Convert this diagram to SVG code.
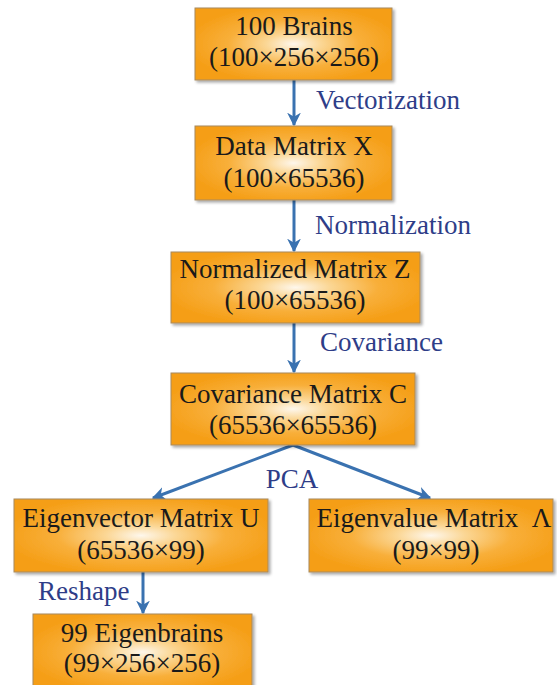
<svg xmlns="http://www.w3.org/2000/svg" width="557" height="685" viewBox="0 0 557 685">
<defs>
<radialGradient id="og" cx="0.5" cy="0.5" r="0.55">
<stop offset="0" stop-color="#FEF7EC"/>
<stop offset="0.25" stop-color="#FBD796"/>
<stop offset="0.6" stop-color="#F8AF3A"/>
<stop offset="1" stop-color="#F59E16"/>
</radialGradient>
<filter id="sh" x="-10%" y="-10%" width="125%" height="130%">
<feGaussianBlur in="SourceAlpha" stdDeviation="1.5"/>
<feOffset dx="2" dy="2" result="b"/>
<feComponentTransfer><feFuncA type="linear" slope="0.35"/></feComponentTransfer>
<feMerge><feMergeNode/><feMergeNode in="SourceGraphic"/></feMerge>
</filter>
<marker id="ah" viewBox="0 0 10 10" refX="9" refY="5" markerWidth="4.6" markerHeight="4.6" orient="auto" markerUnits="strokeWidth">
<path d="M0,0 L10,5 L0,10 L3,5 Z" fill="#3A72B0"/>
</marker>
</defs>
<style>
.box{fill:url(#og);stroke:#A88A5E;stroke-width:1;filter:url(#sh)}
.t{font-family:"Liberation Serif","Times New Roman",serif;font-size:27px;fill:#1a1a1a;text-anchor:middle}
.l{font-family:"Liberation Serif","Times New Roman",serif;font-size:27px;fill:#2E3D88}
.c{stroke:#3A72B0;stroke-width:3;fill:none;marker-end:url(#ah)}
</style>
<rect width="557" height="685" fill="#ffffff"/>
<g id="connectors">
<line class="c" x1="294" y1="80" x2="294" y2="125"/>
<line class="c" x1="294" y1="200" x2="294" y2="251"/>
<line class="c" x1="294" y1="323" x2="294" y2="372"/>
<polyline class="c" points="293,445 153,498"/>
<polyline class="c" points="293,445 430,498"/>
<line class="c" x1="143" y1="572" x2="143" y2="613"/>
<text class="l" x="316" y="109">Vectorization</text>
<text class="l" x="315" y="234">Normalization</text>
<text class="l" x="320" y="351">Covariance</text>
<text class="l" x="292" y="488" text-anchor="middle">PCA</text>
<text class="l" x="38" y="600">Reshape</text>
</g>
<g id="n1">
<rect class="box" x="195" y="8" width="197" height="72"/>
<text class="t" x="294" y="35">100 Brains</text>
<text class="t" x="294" y="66">(100×256×256)</text>
</g>
<g id="n2">
<rect class="box" x="195" y="126" width="197" height="74"/>
<text class="t" x="294" y="155">Data Matrix X</text>
<text class="t" x="294" y="187">(100×65536)</text>
</g>
<g id="n3">
<rect class="box" x="171" y="252" width="249" height="71"/>
<text class="t" x="295" y="278">Normalized Matrix Z</text>
<text class="t" x="295" y="309">(100×65536)</text>
</g>
<g id="n4">
<rect class="box" x="171" y="373" width="244" height="72"/>
<text class="t" x="293" y="403">Covariance Matrix C</text>
<text class="t" x="293" y="434">(65536×65536)</text>
</g>
<g id="n5">
<rect class="box" x="14" y="499" width="254" height="73"/>
<text class="t" x="141" y="527">Eigenvector Matrix U</text>
<text class="t" x="141" y="559">(65536×99)</text>
</g>
<g id="n6">
<rect class="box" x="309" y="499" width="244" height="73"/>
<text class="t" x="434" y="527" xml:space="preserve">Eigenvalue Matrix  Λ</text>
<text class="t" x="436" y="559">(99×99)</text>
</g>
<g id="n7">
<rect class="box" x="33" y="614" width="219" height="76"/>
<text class="t" x="142" y="642">99 Eigenbrains</text>
<text class="t" x="142" y="672">(99×256×256)</text>
</g>
</svg>
